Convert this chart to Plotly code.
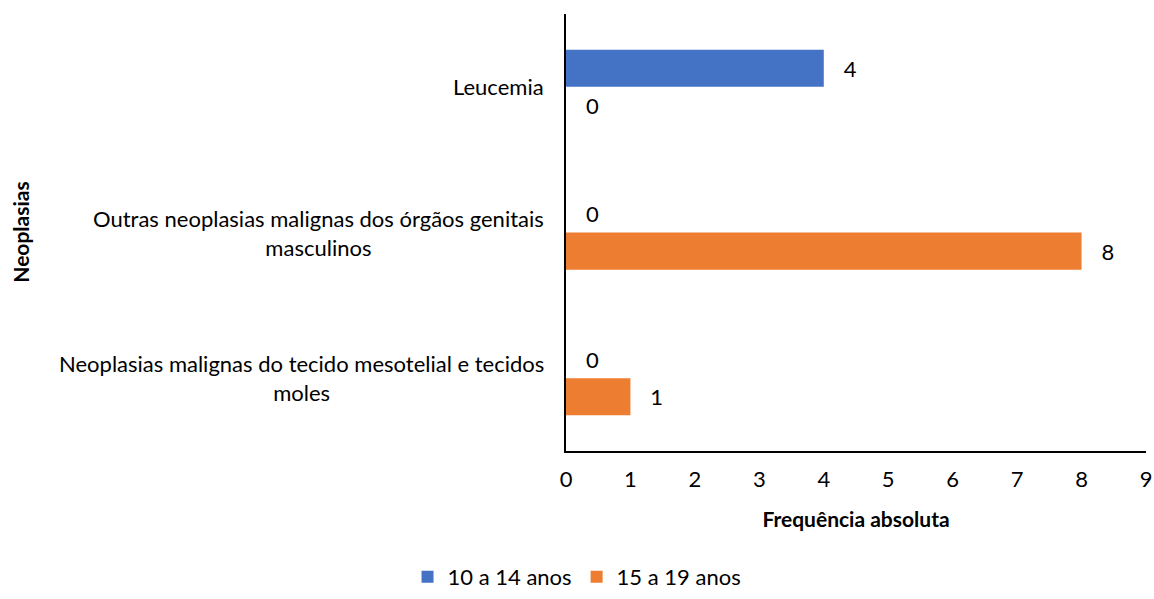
import plotly.graph_objects as go

categories = [
    "Leucemia",
    "Outras neoplasias malignas dos órgãos genitais<br>masculinos",
    "Neoplasias malignas do tecido mesotelial e tecidos<br>moles",
]
series_names = ["10 a 14 anos", "15 a 19 anos"]
values_10_14 = [4, 0, 0]
values_15_19 = [0, 8, 1]
x_ticks = list(range(0, 10))

colors = ["#4472C4", "#ED7D31"]
FONT = "Lato"
FS = 22
pad = "\u00a0\u00a0\u00a0"

fig = go.Figure()
for name, vals, col in zip(series_names, [values_10_14, values_15_19], colors):
    fig.add_trace(go.Bar(
        name=name,
        x=vals,
        y=categories,
        orientation="h",
        marker=dict(color=col, line=dict(width=0)),
        text=[pad + str(v) for v in vals],
        textposition="outside",
        textfont=dict(family=FONT, size=FS, color="#000000"),
        cliponaxis=False,
    ))

# category labels, centred line by line
for cat in categories:
    fig.add_annotation(
        x=0, xref="paper", xanchor="right", xshift=-20,
        y=cat, yref="y", yanchor="middle",
        text=cat, showarrow=False, align="center",
        font=dict(family=FONT, size=FS, color="#000000"),
    )

fig.add_annotation(
    x=-0.941, xref="paper", xanchor="center", y=0.5, yref="paper", yanchor="middle",
    text="<b>Neoplasias</b>", textangle=-90, showarrow=False,
    font=dict(family=FONT, size=21, color="#000000"),
)

fig.update_layout(
    width=1154, height=599,
    margin=dict(l=566, r=8, t=14, b=148, autoexpand=False),
    paper_bgcolor="white", plot_bgcolor="white",
    barmode="group", bargap=0.49, bargroupgap=0,
    font=dict(family=FONT, size=FS, color="#000000"),
    showlegend=True,
    legend=dict(
        orientation="h", x=0.019, xanchor="center", y=-0.336, yanchor="bottom",
        font=dict(family=FONT, size=FS, color="#000000"),
        traceorder="normal", itemwidth=30,
    ),
    xaxis=dict(
        range=[0, 9], tickvals=x_ticks, showgrid=False, zeroline=False,
        showline=True, linecolor="#000000", linewidth=1.5,
        ticks="", ticklabelstandoff=8, automargin=False,
        tickfont=dict(family=FONT, size=FS, color="#000000"),
        title=dict(text="<b>Frequência absoluta</b>", standoff=21,
                   font=dict(family=FONT, size=21, color="#000000")),
    ),
    yaxis=dict(
        categoryorder="array", categoryarray=categories,
        autorange="reversed", showticklabels=False, showgrid=False,
        zeroline=False, showline=True, linecolor="#000000", linewidth=1.5,
        ticks="", automargin=False,
    ),
)

fig.write_html("out.html")
